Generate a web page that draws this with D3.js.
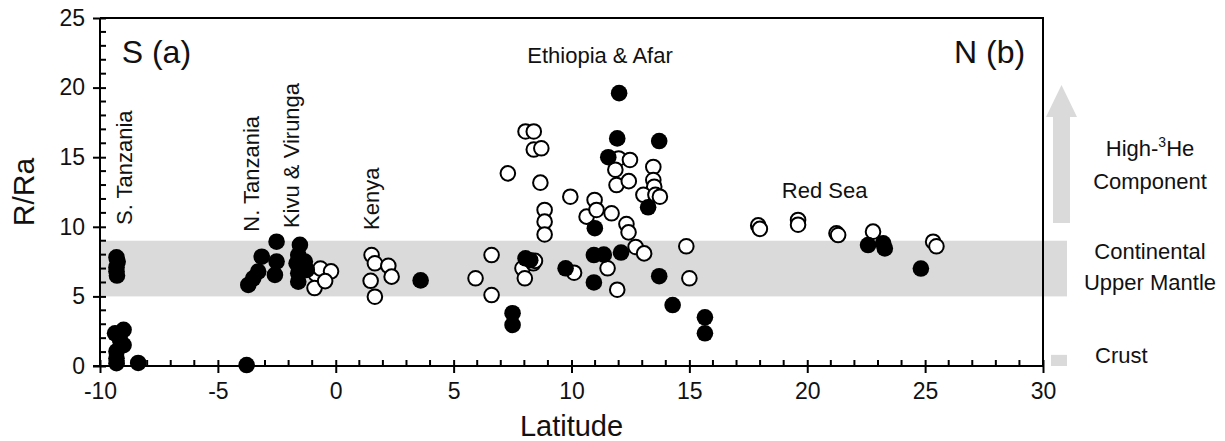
<!DOCTYPE html>
<html><head><meta charset="utf-8">
<script src="https://cdn.jsdelivr.net/npm/d3@7"></script>
<style>body{margin:0;background:#fff}svg{display:block;font-family:"Liberation Sans",Arial,Helvetica,sans-serif}</style>
</head><body>
<svg id="c" width="1225" height="441"></svg>
<script>
// [latitude, R/Ra] — filled symbols
const filledPts = [
  [-9.3,7.8],[-9.25,7.5],[-9.3,7.1],[-9.3,6.8],[-9.28,6.5],
  [-9.36,2.35],[-9.0,2.6],[-9.0,1.5],[-9.15,1.9],[-9.3,1.05],[-9.3,0.55],[-9.3,0.2],[-8.38,0.22],
  [-3.71,5.82],[-3.5,6.3],[-3.29,6.78],[-3.14,7.85],[-2.51,8.93],[-2.51,7.5],[-2.58,6.54],[-3.78,0.07],
  [-1.52,8.7],[-1.59,7.97],[-1.66,7.38],[-1.59,6.66],[-1.59,6.06],[-1.31,7.5],[-1.23,6.9],
  [3.6,6.15],
  [7.5,3.79],[7.5,2.95],[8.05,7.74],[8.25,7.6],[9.75,7.02],[10.99,9.9],[10.95,7.97],[11.37,8.0],[10.95,6.0],
  [11.56,15.0],[11.94,16.35],[12.02,19.6],[12.1,8.15],[13.72,16.16],[13.25,11.4],[13.72,6.45],[14.29,4.38],
  [15.66,3.5],[15.66,2.35],
  [22.58,8.69],[23.22,8.81],[23.29,8.45],[24.82,7.0]
];
// [latitude, R/Ra] — open symbols
const openPts = [
  [-0.85,6.6],[-0.65,7.0],[-0.2,6.8],[-0.9,5.6],[-0.45,6.1],
  [1.52,7.97],[1.66,7.38],[2.23,7.2],[2.37,6.42],[1.48,6.12],[1.66,4.98],
  [5.93,6.3],[6.61,7.97],[6.61,5.1],[7.3,13.84],[8.05,16.85],[8.4,16.85],[8.4,15.55],[8.72,15.64],[8.68,13.17],
  [8.86,11.21],[8.86,10.37],[8.86,9.45],[7.92,7.02],[8.02,6.3],[8.38,7.38],[8.45,7.55],[9.95,12.16],[10.11,6.7],
  [10.98,11.93],[10.64,10.73],[11.06,11.21],[11.7,10.97],[11.53,7.02],[11.94,5.48],[12.0,14.91],[12.48,14.8],
  [11.86,14.1],[11.91,13.0],[12.43,13.28],[12.33,10.2],[12.42,9.6],[12.72,8.55],[13.08,8.09],[13.47,14.3],
  [13.47,13.36],[13.51,12.88],[13.05,12.3],[13.56,12.3],[13.75,12.16],[14.87,8.6],[15.0,6.3],
  [17.92,10.1],[17.99,9.85],[19.61,10.49],[19.61,10.15],[21.24,9.53],[21.31,9.41],[22.79,9.65],[25.34,8.93],[25.48,8.6]
];
const xTicks = [-10,-5,0,5,10,15,20,25,30];
const yTicks = [0,5,10,15,20,25];
const mantleBand = [5, 9];
const crustBand = [0, 0.8];
// region labels: [text, lat, R/Ra, rotated]
const regionLabels = [
  ["S. Tanzania", -8.66, 10.13, true],
  ["N. Tanzania", -3.26, 9.65, true],
  ["Kivu & Virunga", -1.54, 9.91, true],
  ["Kenya", 1.85, 9.77, true]
];

const svg = d3.select("#c");
const L=100, R=1043, T=18, B=366;
const x = d3.scaleLinear().domain([-10,30]).range([L,R]);
const y = d3.scaleLinear().domain([0,25]).range([B,T]);
const grey = "#dadada";

// mantle band (extends past right axis)
svg.append("rect").attr("x",L).attr("width",1067-L)
  .attr("y",y(mantleBand[1])).attr("height",y(mantleBand[0])-y(mantleBand[1])).attr("fill",grey);
// crust swatch
svg.append("rect").attr("x",1051).attr("width",16)
  .attr("y",y(crustBand[1])).attr("height",y(crustBand[0])-y(crustBand[1])).attr("fill",grey);
// arrow
svg.append("path").attr("fill",grey)
  .attr("d","M1053,223 L1053,117 L1046,117 L1061.5,85 L1077,117 L1070,117 L1070,223 Z");

// frame
svg.append("path").attr("d",`M${L},${T}H${R}V${B}`).attr("fill","none").attr("stroke","#000").attr("stroke-width",2);

// axes
const xAx = svg.append("g").attr("transform",`translate(0,${B})`);
xAx.call(d3.axisBottom(x).tickValues(xTicks).tickSize(7).tickPadding(10).tickFormat(d3.format("d")));
xAx.call(g=>g.selectAll(".tick line").attr("y1",-6).attr("stroke-width",2));
xAx.selectAll(".tick text").attr("font-size",23).attr("font-family","Liberation Sans, Arial").attr("fill","#111").text(d=>d<0?"-"+Math.abs(d):d);
xAx.append("g").selectAll("line").data(d3.range(-10,31,1).filter(v=>v%5!==0)).join("line")
  .attr("x1",d=>x(d)).attr("x2",d=>x(d)).attr("y1",0).attr("y2",-6).attr("stroke","#000").attr("stroke-width",2);
xAx.select(".domain").attr("stroke-width",2).attr("d",`M${L-7},0H${R}`);

const yAx = svg.append("g").attr("transform",`translate(${L},0)`);
yAx.call(d3.axisLeft(y).tickValues(yTicks).tickSize(7).tickPadding(8));
yAx.call(g=>g.selectAll(".tick line").attr("x1",6).attr("stroke-width",2));
yAx.selectAll(".tick text").attr("font-size",23).attr("font-family","Liberation Sans, Arial").attr("fill","#111");
yAx.append("g").selectAll("line").data(d3.range(0,26,1).filter(v=>v%5!==0)).join("line")
  .attr("y1",d=>y(d)).attr("y2",d=>y(d)).attr("x1",0).attr("x2",6).attr("stroke","#000").attr("stroke-width",2);
yAx.select(".domain").attr("stroke-width",2).attr("d",`M0,${B}V${T}`);

// points
svg.append("g").selectAll("circle").data(openPts).join("circle")
  .attr("cx",d=>x(d[0])).attr("cy",d=>y(d[1])).attr("r",7.3)
  .attr("fill","#fff").attr("stroke","#000").attr("stroke-width",2);
svg.append("g").selectAll("circle").data(filledPts).join("circle")
  .attr("cx",d=>x(d[0])).attr("cy",d=>y(d[1])).attr("r",8.3).attr("fill","#000");

// axis titles
svg.append("text").attr("x",(L+R)/2).attr("y",436).attr("text-anchor","middle").attr("font-size",29).attr("fill","#111").text("Latitude");
svg.append("text").attr("transform",`translate(34,${(T+B)/2}) rotate(-90)`).attr("text-anchor","middle").attr("font-size",30).attr("fill","#111").text("R/Ra");

// corner labels
svg.append("text").attr("x",x(-9.08)).attr("y",y(21.77)).attr("font-size",32).attr("fill","#111").text("S (a)");
svg.append("text").attr("x",x(29.24)).attr("y",y(21.77)).attr("text-anchor","end").attr("font-size",32).attr("fill","#111").text("N (b)");
svg.append("text").attr("x",x(11.21)).attr("y",y(21.77)).attr("text-anchor","middle").attr("font-size",22).attr("fill","#111").text("Ethiopia & Afar");
svg.append("text").attr("x",x(18.92)).attr("y",y(12.07)).attr("font-size",22).attr("fill","#111").text("Red Sea");
regionLabels.forEach(([t,lx,ly])=>{
  svg.append("text").attr("transform",`translate(${x(lx)},${y(ly)}) rotate(-90)`).attr("font-size",22).attr("fill","#111").text(t);
});

// right-side legend text
const rt = svg.append("g").attr("font-size",22).attr("fill","#111").attr("text-anchor","middle");
const h = rt.append("text").attr("x",1150).attr("y",156);
h.append("tspan").text("High-");
h.append("tspan").attr("dy",-9).attr("font-size",14).text("3");
h.append("tspan").attr("dy",9).text("He");
rt.append("text").attr("x",1150).attr("y",189).text("Component");
rt.append("text").attr("x",1150).attr("y",259).text("Continental");
rt.append("text").attr("x",1150).attr("y",290).text("Upper Mantle");
rt.append("text").attr("x",1095).attr("y",363).attr("text-anchor","start").text("Crust");
</script>
</body></html>
